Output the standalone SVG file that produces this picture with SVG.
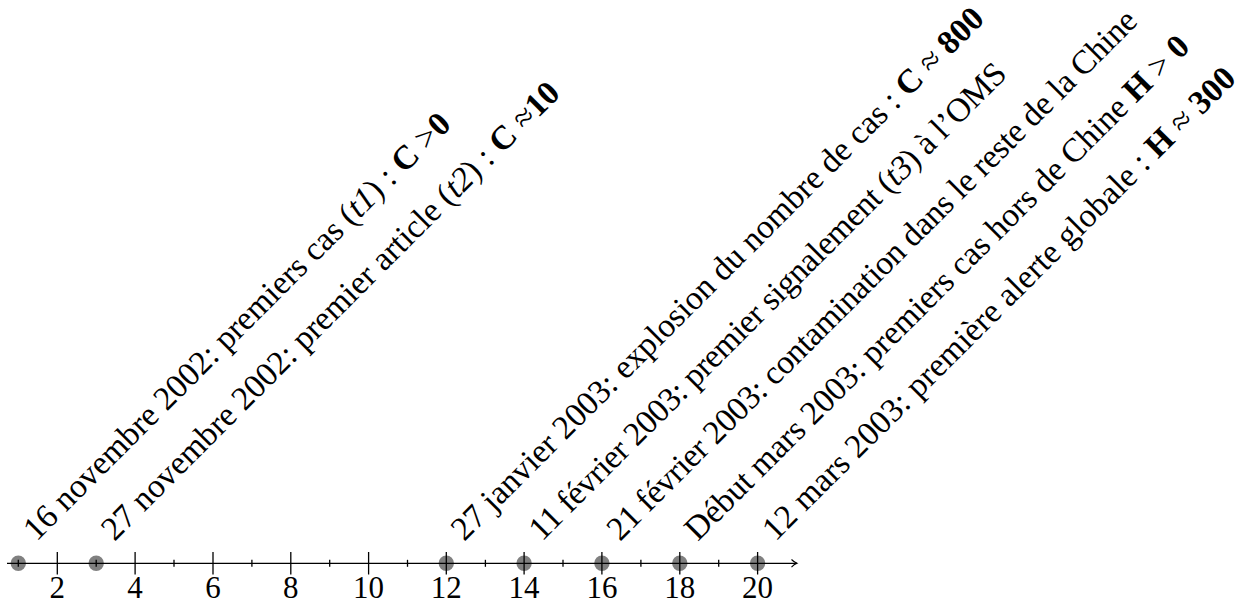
<svg xmlns="http://www.w3.org/2000/svg" width="1248" height="605" viewBox="0 0 1248 605">
<style>
text{font-family:'Liberation Serif','Times New Roman',Times,'DejaVu Serif',serif}
.lbl{font-size:33.5px;fill:#000}
.num{font-size:31px;fill:#000;text-anchor:middle}
.b{font-weight:bold}
.i{font-style:italic}
.dot{fill:#808080}
.tick{stroke:#000;stroke-width:1.3}
.axis{stroke:#000;stroke-width:1.3;fill:none}
</style>
<defs>
<marker id="arr" markerWidth="10" markerHeight="10" refX="7" refY="5" orient="auto" markerUnits="userSpaceOnUse">
<path d="M1.5,1.2 Q4,3.8 7,5 Q4,6.2 1.5,8.8" fill="none" stroke="#000" stroke-width="1.1"/>
</marker>
</defs>
<rect width="1248" height="605" fill="#fff"/>
<g id="dots">
<circle class="dot" cx="18.3" cy="563.3" r="7.7"/>
<circle class="dot" cx="96.2" cy="563.3" r="7.7"/>
<circle class="dot" cx="446.3" cy="563.3" r="7.7"/>
<circle class="dot" cx="524.1" cy="563.3" r="7.7"/>
<circle class="dot" cx="601.9" cy="563.3" r="7.7"/>
<circle class="dot" cx="679.8" cy="563.3" r="7.7"/>
<circle class="dot" cx="757.6" cy="563.3" r="7.7"/>
</g>
<g id="connectors">
<line class="axis" x1="7" y1="563.3" x2="797" y2="563.3" marker-end="url(#arr)"/>
<g class="tick">
<line x1="18.3" y1="559.8" x2="18.3" y2="566.8"/>
<line x1="96.2" y1="559.8" x2="96.2" y2="566.8"/>
<line x1="174.0" y1="559.8" x2="174.0" y2="566.8"/>
<line x1="251.9" y1="559.8" x2="251.9" y2="566.8"/>
<line x1="329.7" y1="559.8" x2="329.7" y2="566.8"/>
<line x1="407.5" y1="559.8" x2="407.5" y2="566.8"/>
<line x1="485.4" y1="559.8" x2="485.4" y2="566.8"/>
<line x1="563.0" y1="559.8" x2="563.0" y2="566.8"/>
<line x1="640.9" y1="559.8" x2="640.9" y2="566.8"/>
<line x1="718.7" y1="559.8" x2="718.7" y2="566.8"/>
<line x1="57.3" y1="552" x2="57.3" y2="574.5"/>
<line x1="135.1" y1="552" x2="135.1" y2="574.5"/>
<line x1="213.0" y1="552" x2="213.0" y2="574.5"/>
<line x1="290.8" y1="552" x2="290.8" y2="574.5"/>
<line x1="368.6" y1="552" x2="368.6" y2="574.5"/>
<line x1="446.3" y1="552" x2="446.3" y2="574.5"/>
<line x1="524.1" y1="552" x2="524.1" y2="574.5"/>
<line x1="601.9" y1="552" x2="601.9" y2="574.5"/>
<line x1="679.8" y1="552" x2="679.8" y2="574.5"/>
<line x1="757.6" y1="552" x2="757.6" y2="574.5"/>
</g>
</g>
<g id="axis-labels">
<text class="num" x="57.3" y="598">2</text>
<text class="num" x="135.1" y="598">4</text>
<text class="num" x="213.0" y="598">6</text>
<text class="num" x="290.8" y="598">8</text>
<text class="num" x="368.6" y="598">10</text>
<text class="num" x="446.3" y="598">12</text>
<text class="num" x="524.1" y="598">14</text>
<text class="num" x="601.9" y="598">16</text>
<text class="num" x="679.8" y="598">18</text>
<text class="num" x="757.6" y="598">20</text>
</g>
<g id="event-1">
<text class="lbl" transform="translate(36.5,542) rotate(-45)">16 novembre 2002: premiers cas (<tspan class="i">t1</tspan>) : <tspan class="b">C</tspan> &gt;<tspan class="b">0</tspan></text>
</g>
<g id="event-2">
<text class="lbl" transform="translate(114.5,542) rotate(-45)">27 novembre 2002: premier article (<tspan class="i">t2</tspan>) : <tspan class="b">C</tspan> ≈<tspan class="b">10</tspan></text>
</g>
<g id="event-3">
<text class="lbl" transform="translate(464.3,542) rotate(-45)">27 janvier 2003: explosion du nombre de cas : <tspan class="b">C</tspan> ≈ <tspan class="b">800</tspan></text>
</g>
<g id="event-4">
<text class="lbl" transform="translate(542.1,542) rotate(-45)" letter-spacing="-0.4">11 février 2003: premier signalement (<tspan class="i">t3</tspan>) à l’OMS</text>
</g>
<g id="event-5">
<text class="lbl" transform="translate(619.9,542) rotate(-45)" letter-spacing="-0.3">21 février 2003: contamination dans le reste de la Chine</text>
</g>
<g id="event-6">
<text class="lbl" transform="translate(697.8,542) rotate(-45)">Début mars 2003: premiers cas hors de Chine <tspan class="b">H</tspan> &gt; <tspan class="b">0</tspan></text>
</g>
<g id="event-7">
<text class="lbl" transform="translate(775.6,542) rotate(-45)" letter-spacing="0.15">12 mars 2003: première alerte globale : <tspan class="b">H</tspan> ≈ <tspan class="b">300</tspan></text>
</g>
</svg>
